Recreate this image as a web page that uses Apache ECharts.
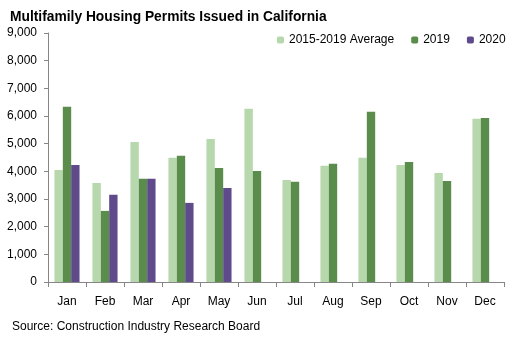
<!DOCTYPE html>
<html><head><meta charset="utf-8">
<script src="https://cdn.jsdelivr.net/npm/echarts@6/dist/echarts.min.js"></script>
<style>html,body{margin:0;padding:0;background:#fff}#c{width:515px;height:343px}</style>
</head><body><div id="c"></div>
<script>
const categories = ['Jan','Feb','Mar','Apr','May','Jun','Jul','Aug','Sep','Oct','Nov','Dec'];
const avg2015_2019 = [4050,3580,5060,4490,5170,6260,3690,4200,4490,4230,3940,5900];
const v2019 = [6330,2570,3730,4560,4120,4010,3620,4270,6150,4340,3650,5930];
const v2020 = [4230,3150,3730,2860,3400,null,null,null,null,null,null,null];
const yTicks = {min:0, max:9000, interval:1000};

const FONT = '"Liberation Sans", Arial, sans-serif';
const chart = echarts.init(document.getElementById('c'), null, {renderer:'canvas'});
chart.setOption({
  animation:false,
  backgroundColor:'#fff',
  title:{text:'Multifamily Housing Permits Issued in California', left:5, top:5,
    textStyle:{fontFamily:FONT, fontSize:13.8, fontWeight:'bold', color:'#000'}},
  legend:{left:272, top:29, width:300, itemWidth:7, itemHeight:7, itemGap:17,
    textStyle:{fontFamily:FONT, fontSize:12, color:'#000'},
    data:['2015-2019 Average','2019','2020']},
  grid:{left:48, right:11, top:33, bottom:61, containLabel:false},
  xAxis:{type:'category', data:categories,
    axisLine:{lineStyle:{color:'#868686', width:1}},
    axisTick:{show:true, length:5, lineStyle:{color:'#868686'}},
    axisLabel:{interval:0, margin:14, fontFamily:FONT, fontSize:12, color:'#000'}},
  yAxis:{type:'value', min:yTicks.min, max:yTicks.max, interval:yTicks.interval,
    axisLine:{show:true, lineStyle:{color:'#868686', width:1}},
    axisTick:{show:true, length:4, lineStyle:{color:'#868686'}},
    splitLine:{show:false},
    axisLabel:{margin:11, fontFamily:FONT, fontSize:12, color:'#000',
      formatter:v=>String(v).replace(/\B(?=(\d{3})+(?!\d))/g, ',')}},
  series:[
    {name:'2015-2019 Average', type:'bar', data:avg2015_2019, itemStyle:{color:'#b7d7ad'}, barGap:'0%', barCategoryGap:'34%'},
    {name:'2019', type:'bar', data:v2019, itemStyle:{color:'#5a8c4b'}, barGap:'0%', barCategoryGap:'34%'},
    {name:'2020', type:'bar', data:v2020, itemStyle:{color:'#5f4b8b'}, barGap:'0%', barCategoryGap:'34%'}
  ],
  graphic:[{type:'text', left:12, top:321,
    style:{text:'Source: Construction Industry Research Board', fontFamily:FONT, fontSize:12, fill:'#000'}}]
});
</script></body></html>
